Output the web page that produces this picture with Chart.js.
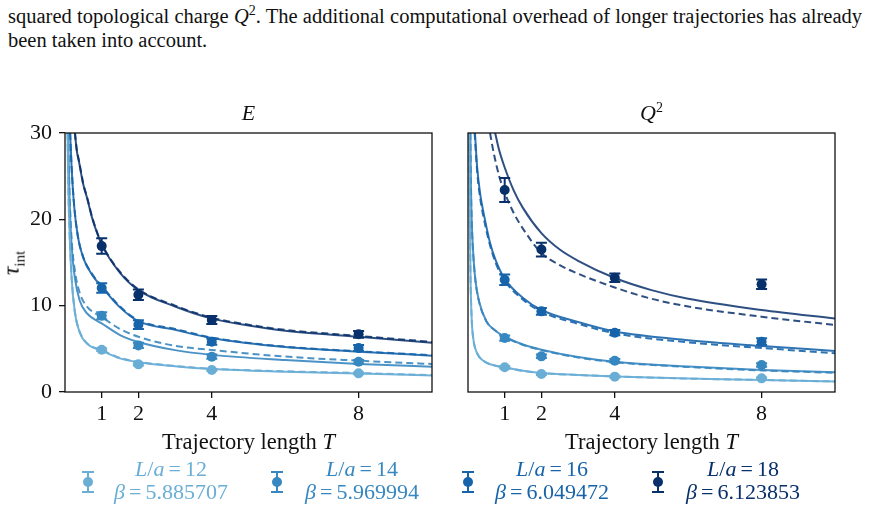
<!DOCTYPE html>
<html>
<head>
<meta charset="utf-8">
<script src="https://cdn.jsdelivr.net/npm/chart.js@4/dist/chart.umd.min.js"></script>
<style>
  body { margin: 0; background: #fff; width: 870px; height: 511px; overflow: hidden; position: relative; font-family: "Liberation Serif", serif; color: #111; }
  .abs { position: absolute; white-space: nowrap; }
  .cap { left: 8px; width: 854px; font-size: 20.5px; line-height: 24px; }
  .cap sup { font-size: 14px; line-height: 0; }
  #cap1 { top: 4px; text-align: justify; text-align-last: justify; }
  #cap2 { top: 28px; }
  canvas { position: absolute; top: 100px; }
  #chartE { left: 0; }
  #chartQ { left: 440px; }
  .ptitle { top: 113px; font-size: 22px; line-height: 1; transform: translate(-50%, -50%); }
  .ptitle sup { font-size: 14px; line-height: 0; }
  .xtitle { top: 442px; font-size: 22.5px; line-height: 1; transform: translate(-50%, -50%); }
  #ylab { left: 13px; top: 263px; font-size: 24px; line-height: 1; transform: translate(-50%, -50%) rotate(-90deg); }
  #ylab sub { font-size: 15px; }
  .legtext { top: 458px; font-size: 22px; line-height: 22.5px; text-align: center; transform: translateX(-50%); }
  .legtext .eq { padding: 0 4px; }
  .legicon { top: 470px; }
</style>
</head>
<body>
<div class="abs cap" id="cap1">squared topological charge <i>Q</i><sup>2</sup>. The additional computational overhead of longer trajectories has already</div>
<div class="abs cap" id="cap2">been taken into account.</div>

<canvas id="chartE" width="440" height="360"></canvas>
<canvas id="chartQ" width="430" height="360"></canvas>

<div class="abs ptitle" style="left:248.5px"><i>E</i></div>
<div class="abs ptitle" style="left:651.5px"><i>Q</i><sup>2</sup></div>
<div class="abs xtitle" style="left:248.5px">Trajectory length <i>T</i></div>
<div class="abs xtitle" style="left:651.5px">Trajectory length <i>T</i></div>
<div class="abs" id="ylab"><i>τ</i><sub>int</sub></div>
<div id="legend"></div>

<script>
// measured trajectory lengths and ensembles
const trajLengths = [1, 2, 4, 8];
const latticeSizes = [12, 14, 16, 18];
const betaValues = ['5.885707', '5.969994', '6.049472', '6.123853'];
const seriesColors = ['#6aaed6', '#3787c0', '#1764ab', '#08306b'];
const fitColors = ['rgba(106,174,214,0.95)', 'rgba(55,135,192,0.9)', 'rgba(23,100,171,0.9)', 'rgba(8,48,107,0.85)'];

const xTicks = [1, 2, 4, 8];
const yTicks = [0, 10, 20, 30];

// tau_int of E, one row per L/a
const tauE = [
  [4.9, 3.2, 2.55, 2.16],
  [8.84, 5.4, 4.09, 3.51],
  [12.05, 7.8, 5.83, 5.1],
  [16.9, 11.27, 8.34, 6.68]
];
const errE = [
  [0.15, 0.12, 0.1, 0.1],
  [0.4, 0.3, 0.25, 0.2],
  [0.55, 0.5, 0.35, 0.35],
  [0.9, 0.6, 0.45, 0.4]
];

// tau_int of Q^2
const tauQ = [
  [2.86, 2.08, 1.78, 1.58],
  [6.25, 4.13, 3.63, 3.13],
  [13.0, 9.34, 6.87, 5.83],
  [23.4, 16.5, 13.24, 12.47]
];
const errQ = [
  [0.15, 0.1, 0.1, 0.1],
  [0.3, 0.2, 0.2, 0.2],
  [0.6, 0.4, 0.3, 0.4],
  [1.4, 0.8, 0.5, 0.55]
];

// fit curves, [T, tau] pairs
const fitSolidE = [
  [[0.07,30],[0.09,24],[0.12,19],[0.18,13.2],[0.27,9.2],[0.4,6.9],[0.6,5.6],[1,4.8],[1.5,3.9],[2,3.45],[3,2.98],[4,2.65],[6,2.35],[8,2.15],[10,1.9]],
  [[0.085,30],[0.12,23],[0.18,17],[0.27,13.2],[0.4,10.6],[0.6,9.1],[1,7.95],[1.5,6.6],[2,5.8],[3,4.85],[4,4.3],[6,3.7],[8,3.25],[10,2.93]],
  [[0.14,30],[0.18,26],[0.25,21.5],[0.35,18],[0.5,15.5],[0.75,13.5],[1,12.2],[1.5,9.8],[2,8.2],[3,7.2],[4,6.25],[6,5.2],[8,4.67],[10,4.21]],
  [[0.27,30],[0.32,28],[0.38,26.7],[0.5,24],[0.6,22.5],[0.75,20],[1,17.1],[1.5,13.8],[2,11.8],[3,9.9],[4,8.5],[5,7.7],[6,7.1],[8,6.4],[10,5.7]]
];
const fitDashedE = [
  [[0.07,30],[0.09,24],[0.12,19],[0.18,13.3],[0.27,9.3],[0.4,7],[0.6,5.65],[1,4.85],[1.5,3.95],[2,3.5],[3,3.02],[4,2.7],[6,2.4],[8,2.2],[10,1.95]],
  [[0.085,30],[0.12,23.5],[0.18,17.7],[0.27,14],[0.4,11.5],[0.6,9.9],[1,8.7],[1.5,7.3],[2,6.4],[3,5.35],[4,4.87],[6,4.1],[8,3.63],[10,3.24]],
  [[0.14,30],[0.18,26.1],[0.25,21.6],[0.35,18.1],[0.5,15.6],[0.75,13.6],[1,12.3],[1.5,9.9],[2,8.3],[3,7.3],[4,6.3],[6,5.25],[8,4.72],[10,4.26]],
  [[0.27,30],[0.32,28.1],[0.38,26.8],[0.5,24.1],[0.6,22.6],[0.75,20.1],[1,17.2],[1.5,13.9],[2,11.9],[3,10],[4,8.6],[5,7.8],[6,7.2],[8,6.5],[10,5.8]]
];
const fitSolidQ = [
  [[0.035,30],[0.05,20],[0.07,13],[0.1,8.5],[0.15,6],[0.2,5],[0.3,4.1],[0.5,3.4],[0.75,3.05],[1,2.85],[1.5,2.45],[2,2.2],[3,1.97],[4,1.8],[6,1.55],[8,1.39],[10,1.22]],
  [[0.065,30],[0.08,24],[0.1,20],[0.15,15.5],[0.2,13],[0.3,10.5],[0.5,8.2],[0.75,7.1],[1,6.4],[1.5,5.5],[2,4.9],[3,4.05],[4,3.5],[6,2.95],[8,2.55],[10,2.28]],
  [[0.19,30],[0.25,26],[0.33,23],[0.46,20],[0.6,17.3],[0.75,15.3],[1,13.1],[1.5,10.9],[2,9.5],[3,8.1],[4,7],[6,6],[8,5.33],[10,4.75]],
  [[0.74,30],[0.85,28],[1,26],[1.25,23.3],[1.5,21.3],[2,18.4],[2.5,16.5],[3,15.2],[4,13.2],[5,11.8],[6,10.8],[8,9.5],[10,8.5]]
];
const fitDashedQ = [
  [[0.035,30],[0.05,20],[0.07,13],[0.1,8.5],[0.15,6],[0.2,5],[0.3,4.1],[0.5,3.4],[0.75,3.05],[1,2.85],[1.5,2.45],[2,2.2],[3,1.97],[4,1.8],[6,1.55],[8,1.39],[10,1.22]],
  [[0.065,30],[0.08,24],[0.1,20],[0.15,15.5],[0.2,13],[0.3,10.5],[0.5,8.2],[0.75,7.1],[1,6.4],[1.5,5.45],[2,4.85],[3,4],[4,3.45],[6,2.9],[8,2.5],[10,2.22]],
  [[0.18,30],[0.25,25.5],[0.33,22.5],[0.46,19.5],[0.6,17],[0.75,15],[1,12.9],[1.5,10.7],[2,9.3],[3,7.9],[4,6.8],[6,5.75],[8,5.1],[10,4.48]],
  [[0.6,30],[0.7,27.7],[0.85,25],[1,23.1],[1.25,20.7],[1.5,18.9],[2,16.1],[2.5,14.7],[3,13.7],[4,12.1],[5,10.8],[6,9.9],[8,8.72],[10,7.76]]
];

const fontFamily = '"Liberation Serif", serif';

const errorBarPlugin = {
  id: 'errorBars',
  afterDatasetsDraw(chart) {
    const { ctx, scales: { x, y } } = chart;
    ctx.save();
    ctx.lineWidth = 2;
    chart.data.datasets.forEach(ds => {
      if (!ds.errors) return;
      ctx.strokeStyle = ds.pointBackgroundColor;
      ds.data.forEach((p, j) => {
        const px = x.getPixelForValue(p.x);
        const top = y.getPixelForValue(p.y + ds.errors[j]);
        const bot = y.getPixelForValue(p.y - ds.errors[j]);
        ctx.beginPath();
        ctx.moveTo(px, top); ctx.lineTo(px, bot);
        ctx.moveTo(px - 5.5, top); ctx.lineTo(px + 5.5, top);
        ctx.moveTo(px - 5.5, bot); ctx.lineTo(px + 5.5, bot);
        ctx.stroke();
      });
    });
    ctx.restore();
  }
};

const framePlugin = {
  id: 'frame',
  afterDraw(chart) {
    const { ctx, chartArea: a } = chart;
    ctx.save();
    ctx.strokeStyle = '#111';
    ctx.lineWidth = 1.3;
    ctx.strokeRect(a.left, a.top, a.right - a.left, a.bottom - a.top);
    ctx.restore();
  }
};

function buildDatasets(tau, err, fitSolid, fitDashed) {
  const sets = [];
  latticeSizes.forEach((L, i) => {
    sets.push({
      label: 'L/a = ' + L,
      data: trajLengths.map((t, j) => ({ x: t, y: tau[i][j] })),
      errors: err[i],
      showLine: false,
      pointRadius: 5,
      pointBackgroundColor: seriesColors[i],
      pointBorderWidth: 0,
      order: 0
    });
  });
  latticeSizes.forEach((L, i) => {
    sets.push({
      data: fitSolid[i].map(([x, y]) => ({ x, y })),
      borderColor: fitColors[i],
      borderWidth: 2,
      pointRadius: 0,
      cubicInterpolationMode: 'monotone',
      order: 2
    });
    sets.push({
      data: fitDashed[i].map(([x, y]) => ({ x, y })),
      borderColor: fitColors[i],
      borderWidth: 2,
      borderDash: [7, 4],
      pointRadius: 0,
      cubicInterpolationMode: 'monotone',
      order: 1
    });
  });
  return sets;
}

function makePanel(canvasId, datasets, showY, padding) {
  return new Chart(document.getElementById(canvasId), {
    type: 'line',
    data: { datasets },
    plugins: [errorBarPlugin, framePlugin],
    options: {
      responsive: false,
      animation: false,
      layout: { padding },
      plugins: {
        legend: { display: false },
        tooltip: { enabled: false }
      },
      scales: {
        x: {
          type: 'linear',
          min: 0,
          max: 10,
          afterBuildTicks: s => { s.ticks = xTicks.map(v => ({ value: v })); },
          afterFit: s => { s.height = 68; },
          grid: { drawOnChartArea: false, drawTicks: true, tickLength: 6, color: '#111', lineWidth: 1.3 },
          border: { display: false },
          ticks: { color: '#111', font: { family: fontFamily, size: 22 }, padding: 3, maxRotation: 0, autoSkip: false }
        },
        y: {
          display: showY,
          min: 0,
          max: 30,
          afterBuildTicks: s => { s.ticks = yTicks.map(v => ({ value: v })); },
          afterFit: s => { s.width = showY ? 65 : 0; },
          grid: { drawOnChartArea: false, drawTicks: true, tickLength: 6, color: '#111', lineWidth: 1.3 },
          border: { display: false },
          ticks: { color: '#111', font: { family: fontFamily, size: 22 }, padding: 7 }
        }
      }
    }
  });
}

makePanel('chartE', buildDatasets(tauE, errE, fitSolidE, fitDashedE), true, { left: 0, right: 8, top: 33, bottom: 0 });
makePanel('chartQ', buildDatasets(tauQ, errQ, fitSolidQ, fitDashedQ), false, { left: 28, right: 35, top: 33, bottom: 0 });

// legend below the panels
const legendIconX = [88, 277, 468, 658];
const legendTextX = [171, 362, 552, 743];
const legend = document.getElementById('legend');
latticeSizes.forEach((L, i) => {
  const c = seriesColors[i];
  const icon = document.createElement('div');
  icon.className = 'abs legicon';
  icon.style.left = (legendIconX[i] - 7) + 'px';
  icon.innerHTML = `<svg width="14" height="24"><path d="M7 2V22M1 2H13M1 22H13" stroke="${c}" stroke-width="2" fill="none"/><circle cx="7" cy="12" r="5" fill="${c}"/></svg>`;
  legend.appendChild(icon);
  const txt = document.createElement('div');
  txt.className = 'abs legtext';
  txt.style.left = legendTextX[i] + 'px';
  txt.style.color = c;
  txt.innerHTML = `<i>L</i>/<i>a</i><span class="eq">=</span>${L}<br><i>β</i><span class="eq">=</span>${betaValues[i]}`;
  legend.appendChild(txt);
});
</script>
</body>
</html>
